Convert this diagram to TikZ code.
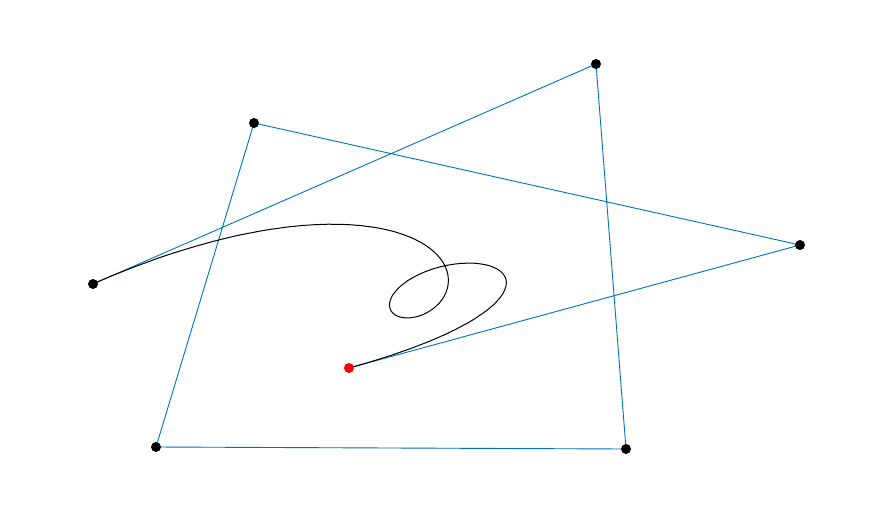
\documentclass[tikz,border=0pt]{standalone}
\usepackage{tikz}
\definecolor{polyblue}{RGB}{0,114,189}
\tikzstyle{ctrl} = [circle, fill=black, inner sep=0pt, minimum size=10pt]
\tikzstyle{poly} = [polyblue, line width=0.9pt]
\tikzstyle{curve} = [black, line width=1pt]

\begin{document}
\begin{tikzpicture}[x=1pt, y=-1pt]
  \useasboundingbox (0,0) rectangle (884,517);
  % control points of the degree 6 curve
  \foreach \n/\px/\py in {0/93/284, 1/596/64, 2/626/449, 3/156/447, 4/254/123, 5/800/245, 6/349/368}
    \coordinate (p\n) at (\px,\py);

  \draw[poly] (p0) -- (p1) -- (p2) -- (p3) -- (p4) -- (p5) -- (p6);

  \draw[curve] plot[domain=0:1, samples=300, smooth, variable=\t]
    ({(1-\t)^6*93 + 6*(1-\t)^5*\t*596 + 15*(1-\t)^4*\t^2*626 + 20*(1-\t)^3*\t^3*156
      + 15*(1-\t)^2*\t^4*254 + 6*(1-\t)*\t^5*800 + \t^6*349},
     {(1-\t)^6*284 + 6*(1-\t)^5*\t*64 + 15*(1-\t)^4*\t^2*449 + 20*(1-\t)^3*\t^3*447
      + 15*(1-\t)^2*\t^4*123 + 6*(1-\t)*\t^5*245 + \t^6*368});

  \foreach \n in {0,...,5}
    \node[ctrl] (d\n) at (p\n) {};
  \node[ctrl, fill=red] (d6) at (p6) {};
\end{tikzpicture}
\end{document}
